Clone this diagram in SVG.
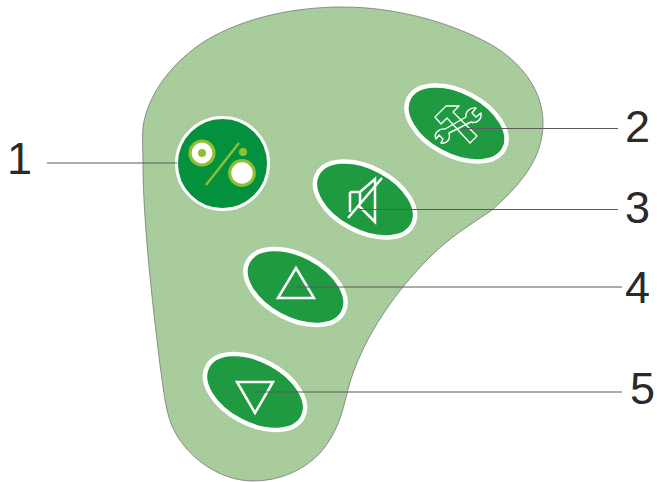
<svg xmlns="http://www.w3.org/2000/svg" width="657" height="482" viewBox="0 0 657 482">
<style>
.btn{fill:#1f9a40;stroke:#fff;stroke-width:4.5}
.ico{fill:none;stroke:#fff;stroke-width:2.5}
.thin{fill:none;stroke:#fff;stroke-width:1.4;stroke-linejoin:round}
.lead{fill:none;stroke:#5a5a5a;stroke-width:1.1}
.num{font-family:"Liberation Sans",Arial,sans-serif;font-size:45px;fill:#2a2a2a}
</style>
<defs>
<pattern id="dots" width="4" height="4" patternUnits="userSpaceOnUse">
<rect width="4" height="4" fill="#a7cb9b"/>
<rect x="1" y="1" width="1" height="1" fill="#b6d6aa"/>
</pattern>
</defs>
<g id="body">
<path d="M143 127 C148 92 175 60 205 41 C245 17 295 7 343 7 C395 7 450 22 490 44 C522 62 544 92 543 125 C542 160 520 185 492 210 C470 225 450 237 430 257 C395 292 365 335 350 382 C343 408 340 430 320 453 C302 472 277 481 253 481 C222 481 190 460 175 432 C166 415 165 400 160 365 C152 300 143 220 143 163 C143 150 142 140 143 127 Z" fill="url(#dots)" stroke="#777" stroke-width="0.8"/>
</g>
<g id="node1">
<circle cx="222.5" cy="163.5" r="46" fill="#04913d" stroke="#fff" stroke-width="3"/>
<circle cx="202" cy="153" r="12" fill="#fff" stroke="#8fc031" stroke-width="3.2"/>
<circle cx="202" cy="153" r="4" fill="#8fc031"/>
<circle cx="242" cy="173" r="12.3" fill="#fff" stroke="#8fc031" stroke-width="3.2"/>
<circle cx="243" cy="152" r="4" fill="#8fc031"/>
<line x1="239" y1="143" x2="206" y2="185" stroke="#8fc031" stroke-width="2.4"/>
</g>
<g id="node2">
<ellipse class="btn" cx="456.5" cy="123.5" rx="54" ry="32" transform="rotate(28 456.5 123.5)"/>
<path class="thin" d="M435 117 L446 106 L459 106 L453 112 L477 136 L470 143 L447 118 L441 124 Z"/>
<path class="thin" d="M466 117 C465 112 470 107 476 108 L472 113 L476 117 L481 113 C482 119 477 124 471 122 L449 133 C451 140 446 144 441 143 L443 139 L439 135 L436 139 C433 133 440 128 445 129 Z"/>
</g>
<g id="node3">
<ellipse class="btn" cx="365" cy="199.5" rx="54" ry="32" transform="rotate(28 365 199.5)"/>
<path class="ico" d="M350 192 L360 192 L375 179 L375 222 L359 206 M350 192 L350 212 M360 192 L360 204"/>
<line class="ico" x1="382" y1="178" x2="348" y2="218"/>
</g>
<g id="node4">
<ellipse class="btn" cx="295.5" cy="287" rx="54" ry="32" transform="rotate(28 295.5 287)"/>
<path class="ico" stroke-width="3" d="M296 268 L314 298 L278 298 Z"/>
</g>
<g id="node5">
<ellipse class="btn" cx="255" cy="392" rx="54" ry="32" transform="rotate(28 255 392)"/>
<path class="ico" stroke-width="3" d="M237 382 L273 382 L255 413 Z"/>
</g>
<g id="connectors">
<line class="lead" x1="47" y1="163" x2="177" y2="163"/>
<line class="lead" x1="462" y1="128.5" x2="618" y2="128.5"/>
<line class="lead" x1="360" y1="209.5" x2="618" y2="209.5"/>
<line class="lead" x1="296" y1="287" x2="622" y2="287"/>
<line class="lead" x1="255" y1="392" x2="622" y2="392"/>
</g>
<g id="labels">
<text class="num" x="7" y="174">1</text>
<text class="num" x="625" y="142">2</text>
<text class="num" x="625" y="223">3</text>
<text class="num" x="625" y="303">4</text>
<text class="num" x="630" y="404">5</text>
</g>
</svg>
